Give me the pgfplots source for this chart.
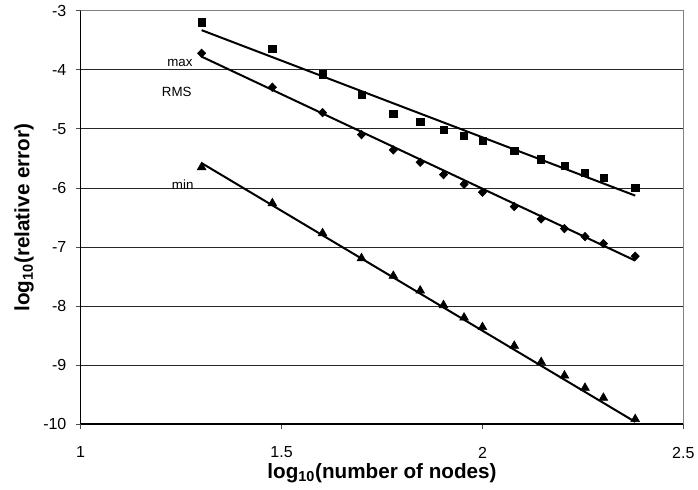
\documentclass[border=0pt]{standalone}
\usepackage{fontspec}
\setmainfont{Liberation Sans}
\usepackage{pgfplots}
\pgfplotsset{compat=1.18}
\usepackage{pgfplotstable}
\usetikzlibrary{calc}

\pgfplotstableread{
x        maxe    rms     mine
1.30103  -3.196  -3.721  -5.650
1.47712  -3.648  -4.296  -6.260
1.60206  -4.076  -4.726  -6.767
1.69897  -4.426  -5.098  -7.190
1.77815  -4.742  -5.357  -7.489
1.84510  -4.883  -5.566  -7.738
1.90309  -5.013  -5.775  -7.985
1.95424  -5.115  -5.938  -8.195
2.00000  -5.200  -6.073  -8.357
2.07918  -5.369  -6.316  -8.673
2.14613  -5.515  -6.525  -8.949
2.20412  -5.628  -6.689  -9.176
2.25527  -5.741  -6.824  -9.384
2.30103  -5.826  -6.942  -9.553
2.38021  -5.995  -7.156  -9.914
}\data

\begin{document}
\begin{tikzpicture}
\begin{axis}[
  scale only axis,
  width=452pt, height=310.2pt,
  xmin=1, xmax=2.5, ymin=-10, ymax=-3,
  xtick={1,1.5,2,2.5},
  ytick={-10,-9,-8,-7,-6,-5,-4,-3},
  axis lines*=left,
  x axis line style={line width=1.4pt},
  y axis line style={line width=0.8pt},
  tick align=outside,
  major tick length=3.75pt,
  tick style={black!70, line width=0.6pt},
  ymajorgrids,
  major grid style={black!85, line width=0.55pt},
  /pgf/number format/assume math mode=true,
  tick label style={font=\fontsize{12}{14}\selectfont},
  yticklabel style={anchor=east, inner sep=0pt, xshift=0pt},
  xticklabel style={anchor=north, inner sep=0pt},
  xticklabel shift=13pt,
  yticklabel shift=6.75pt,
  xlabel={\textbf{log\textsubscript{10}(number of nodes)}},
  ylabel={\textbf{log\textsubscript{10}(relative error)}},
  xlabel style={font=\fontsize{15.5}{18}\selectfont, at={(axis description cs:0.5,-0.13)}, anchor=base},
  ylabel style={font=\fontsize{15.5}{18}\selectfont, at={(axis description cs:-0.085,0.5)}, anchor=base, rotate=0},
  clip=false,
]
\draw[black!50, line width=0.6pt] (rel axis cs:0,1) -- (rel axis cs:1,1) -- (rel axis cs:1,0);
% trendlines
\addplot[black, line width=1.5pt, no marks] coordinates {(1.30103,-3.33) (2.38021,-6.13)};
\addplot[black, line width=1.5pt, no marks] coordinates {(1.30103,-3.778) (2.38021,-7.23)};
\addplot[black, line width=1.5pt, no marks] coordinates {(1.30103,-5.58) (2.38021,-9.96)};
% data
\addplot[only marks, mark=square*, mark size=2.7pt, black] table[x=x, y=maxe] {\data};
\addplot[only marks, mark=diamond*, mark size=3.2pt, mark options={xscale=1.3}, black] table[x=x, y=rms] {\data};
\addplot[only marks, mark=triangle*, mark size=3.8pt, black] table[x=x, y=mine] {\data};
\node[font=\fontsize{10}{12}\selectfont] at (axis cs:1.247,-3.88) {max};
\node[font=\fontsize{10}{12}\selectfont] at (axis cs:1.239,-4.375) {RMS};
\node[font=\fontsize{10}{12}\selectfont] at (axis cs:1.254,-5.95) {min};
\end{axis}
\pgfresetboundingbox
\path ($(current axis.south west)+(-60.5pt,-49.3pt)$) rectangle ($(current axis.north east)+(11pt,8pt)$);
\end{tikzpicture}
\end{document}
